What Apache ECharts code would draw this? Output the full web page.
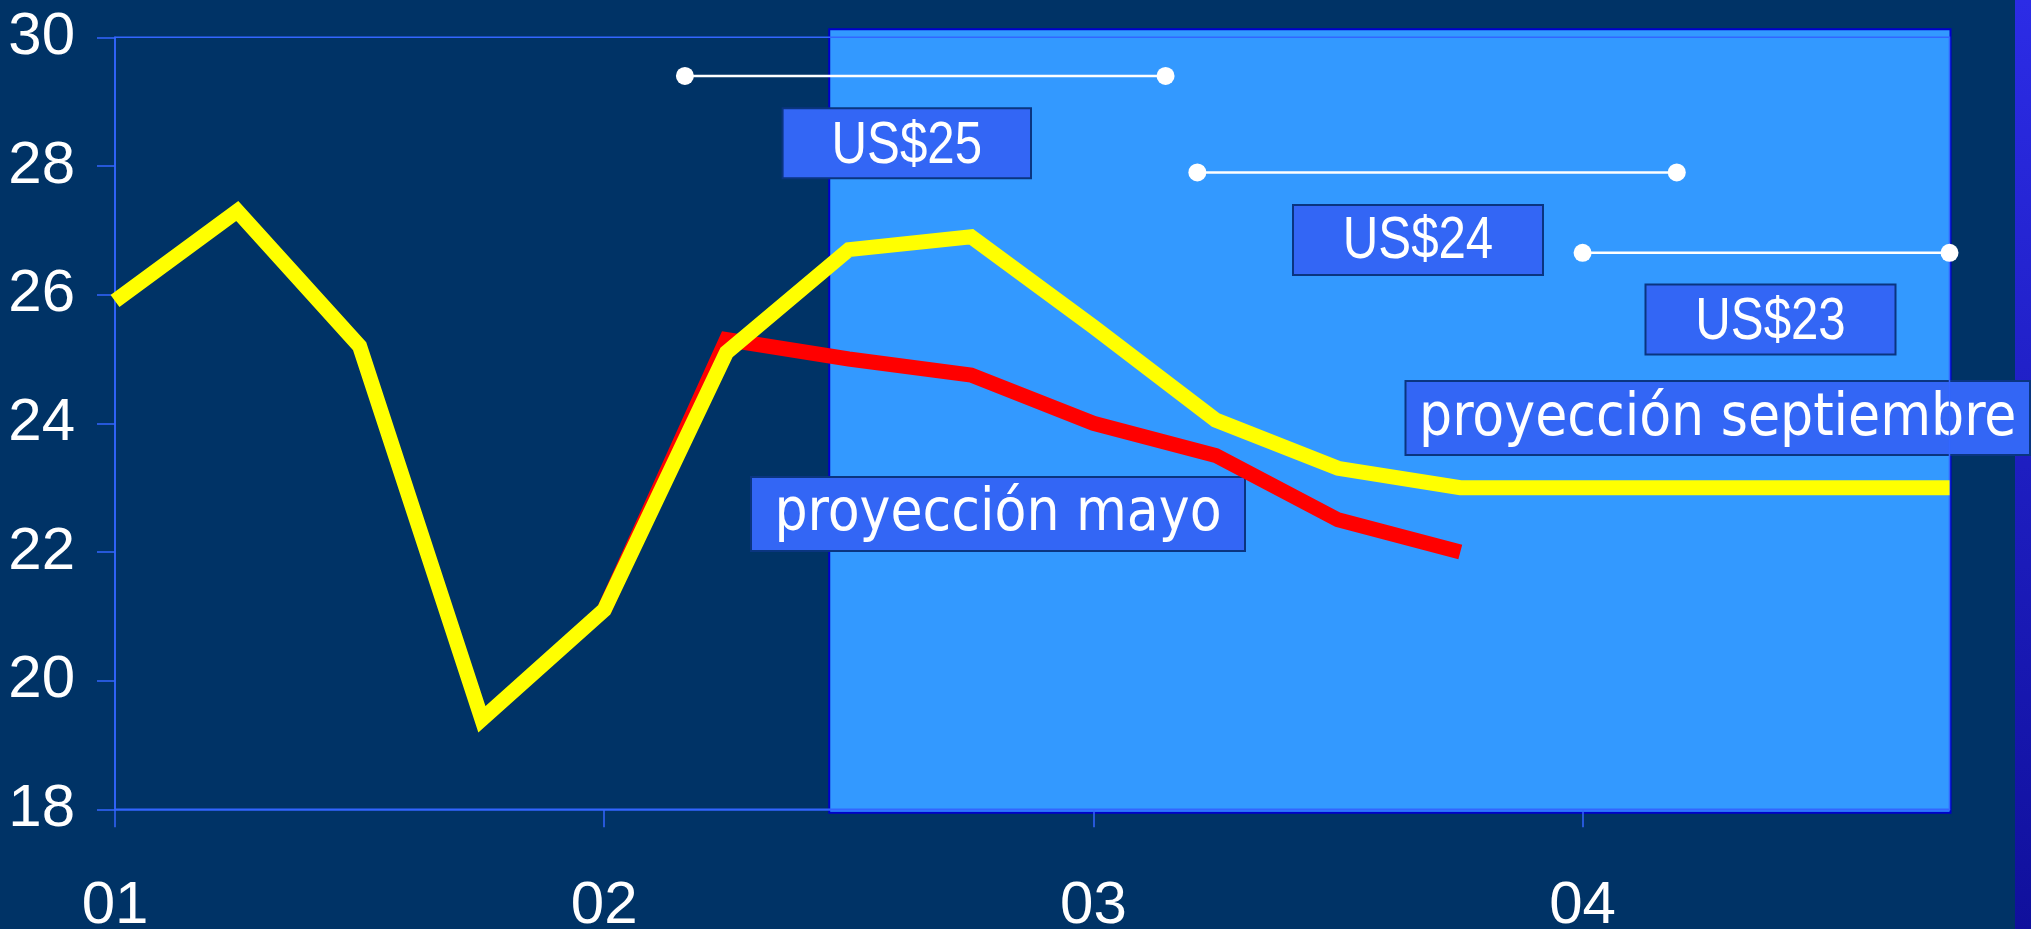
<!DOCTYPE html>
<html><head><meta charset="utf-8">
<script src="https://cdn.jsdelivr.net/npm/echarts@6/dist/echarts.min.js"></script>
<style>html,body{margin:0;padding:0;background:#003366;overflow:hidden}#c{width:2031px;height:929px}</style>
</head><body><div id="c"></div>
<script>
// ---- data ----
const quarters = ['01-T1','01-T2','01-T3','01-T4','02-T1','02-T2','02-T3','02-T4',
                  '03-T1','03-T2','03-T3','03-T4','04-T1','04-T2','04-T3','04-T4'];
const septiembre = [25.9, 27.3, 25.2, 19.4, 21.1, 25.1, 26.7, 26.9, 25.5, 24.05, 23.3, 23.0, 23.0, 23.0, 23.0, 23.0];
const mayo       = [null, null, null, null, 21.1, 25.3, 25.0, 24.75, 24.0, 23.5, 22.5, 22.0, null, null, null, null];
const yMin = 18, yMax = 30, yStep = 2;
const priceTags  = ['US$25', 'US$24', 'US$23'];
const priceSpans = [[4.66, 8.59], [8.85, 12.77], [12.0, 15.0]]; // in quarter index units
const priceLevel = [29.4, 27.9, 26.65];
const projectionStart = 5.84; // quarter index where shaded projection zone begins

function hasFont(name){
  const c = document.createElement('canvas').getContext('2d');
  const t = 'US$23 proyección 0123';
  c.font = '60px monospace'; const a = c.measureText(t).width;
  c.font = '60px "' + name + '", monospace'; const b = c.measureText(t).width;
  return Math.abs(a - b) > 0.5;
}
const narrowOK = hasFont('Liberation Sans Narrow');
const condOK = hasFont('DejaVu Sans Condensed');
const narrowFont = narrowOK ? '"Liberation Sans Narrow"' : '"Liberation Sans"';
const narrowScale = narrowOK ? 1 : 0.82;
const condFont = condOK ? '"DejaVu Sans Condensed"' : '"DejaVu Sans"';

const chart = echarts.init(document.getElementById('c'), null, {renderer: 'canvas'});
const axisColor = '#3366ff';

const dumbbells = priceSpans.map((s, i) => ({
  type: 'line', xAxisIndex: 1, z: 4, clip: false, silent: true,
  data: [[s[0], priceLevel[i]], [s[1], priceLevel[i]]],
  symbol: 'circle', symbolSize: 18,
  lineStyle: {color: '#ffffff', width: 2.5},
  itemStyle: {color: '#ffffff'}
}));

chart.setOption({
  backgroundColor: '#003366',
  animation: false,
  grid: {left: 115, right: 81.5, top: 37.3, bottom: 119.7, containLabel: false, outerBoundsMode: 'none',
         show: true, borderColor: axisColor, borderWidth: 1.5, backgroundColor: 'transparent'},
  xAxis: [{
    type: 'category', data: quarters, boundaryGap: false,
    axisLine: {lineStyle: {color: axisColor, width: 1.5}},
    axisTick: {interval: 3, length: 18, lineStyle: {color: axisColor, width: 1.5}},
    axisLabel: {interval: 3, margin: 67, color: '#fff', fontFamily: narrowFont, fontSize: 60,
      textShadowColor: '#000', textShadowOffsetX: 2, textShadowOffsetY: 2, textShadowBlur: 0,
      formatter: v => v.split('-')[0]},
    splitLine: {show: false}
  }, {
    type: 'value', min: 0, max: quarters.length - 1, show: false
  }],
  yAxis: {
    type: 'value', min: yMin, max: yMax, interval: yStep,
    axisLine: {show: true, lineStyle: {color: axisColor, width: 1.5}},
    axisTick: {show: true, length: 18, lineStyle: {color: axisColor, width: 1.5}},
    axisLabel: {margin: 40, color: '#fff', fontFamily: narrowFont, fontSize: 60, padding: [0, 0, 10, 0],
      textShadowColor: '#000', textShadowOffsetX: 2, textShadowOffsetY: 2, textShadowBlur: 0},
    splitLine: {show: false}
  },
  series: [
    {type: 'line', name: 'proyección mayo', data: mayo, z: 3, symbol: 'none', connectNulls: false,
     lineStyle: {color: '#ff0000', width: 15, cap: 'butt', join: 'miter'}},
    {type: 'line', name: 'proyección septiembre', data: septiembre, z: 4, symbol: 'none',
     lineStyle: {color: '#ffff00', width: 15, cap: 'butt', join: 'miter'}}
  ].concat(dumbbells)
});

// decorations
const x0 = chart.convertToPixel({xAxisIndex: 1}, projectionStart);
const xr = chart.convertToPixel({xAxisIndex: 1}, quarters.length - 1);
const yTop = chart.convertToPixel({yAxisIndex: 0}, yMax);
const yBot = chart.convertToPixel({yAxisIndex: 0}, yMin);

function tagBox(x, y, w, h, text, font, size, shadow, ty, sx){
  return [{
    type: 'rect', z: -1, silent: true,
    shape: {x: x, y: y, width: w, height: h},
    style: {fill: '#3366f5', stroke: '#0a3580', lineWidth: 2}
  }, {
    type: 'text', z: -1, silent: true, x: x + w / 2, y: ty, scaleX: sx || 1,
    style: {text: text, fill: '#fff', font: size + 'px ' + font, align: 'center', verticalAlign: 'middle',
      textShadowColor: shadow ? '#000' : 'transparent', textShadowOffsetX: shadow ? 2 : 0, textShadowOffsetY: shadow ? 2 : 0}
  }];
}

const g = [
  {type: 'rect', z: -3, silent: true, shape: {x: 2015, y: 0, width: 16, height: 929},
   style: {fill: new echarts.graphic.LinearGradient(0, 0, 0, 1, [{offset: 0, color: '#2c2ce6'}, {offset: 1, color: '#10109c'}])}},
  {type: 'rect', z: -2, silent: true,
   shape: {x: x0, y: yTop - 8, width: xr - x0 + 1, height: yBot - yTop + 11.5},
   style: {fill: '#3399ff', stroke: '#0000cc', lineWidth: 2}}
]
.concat(tagBox(782.6, 108.3, 248.4, 70, priceTags[0], narrowFont, 60, false, 146, narrowScale))
.concat(tagBox(1293, 205, 250, 70, priceTags[1], narrowFont, 60, false, 241, narrowScale))
.concat(tagBox(1645.5, 284.5, 250, 70, priceTags[2], narrowFont, 60, false, 322, narrowScale))
.concat(tagBox(1405.5, 381, 624.5, 74, 'proyección septiembre', condFont, 58, true, 420))
.concat(tagBox(751, 477, 494, 74, 'proyección mayo', condFont, 58, true, 515));

chart.setOption({graphic: {elements: g}});
</script></body></html>
